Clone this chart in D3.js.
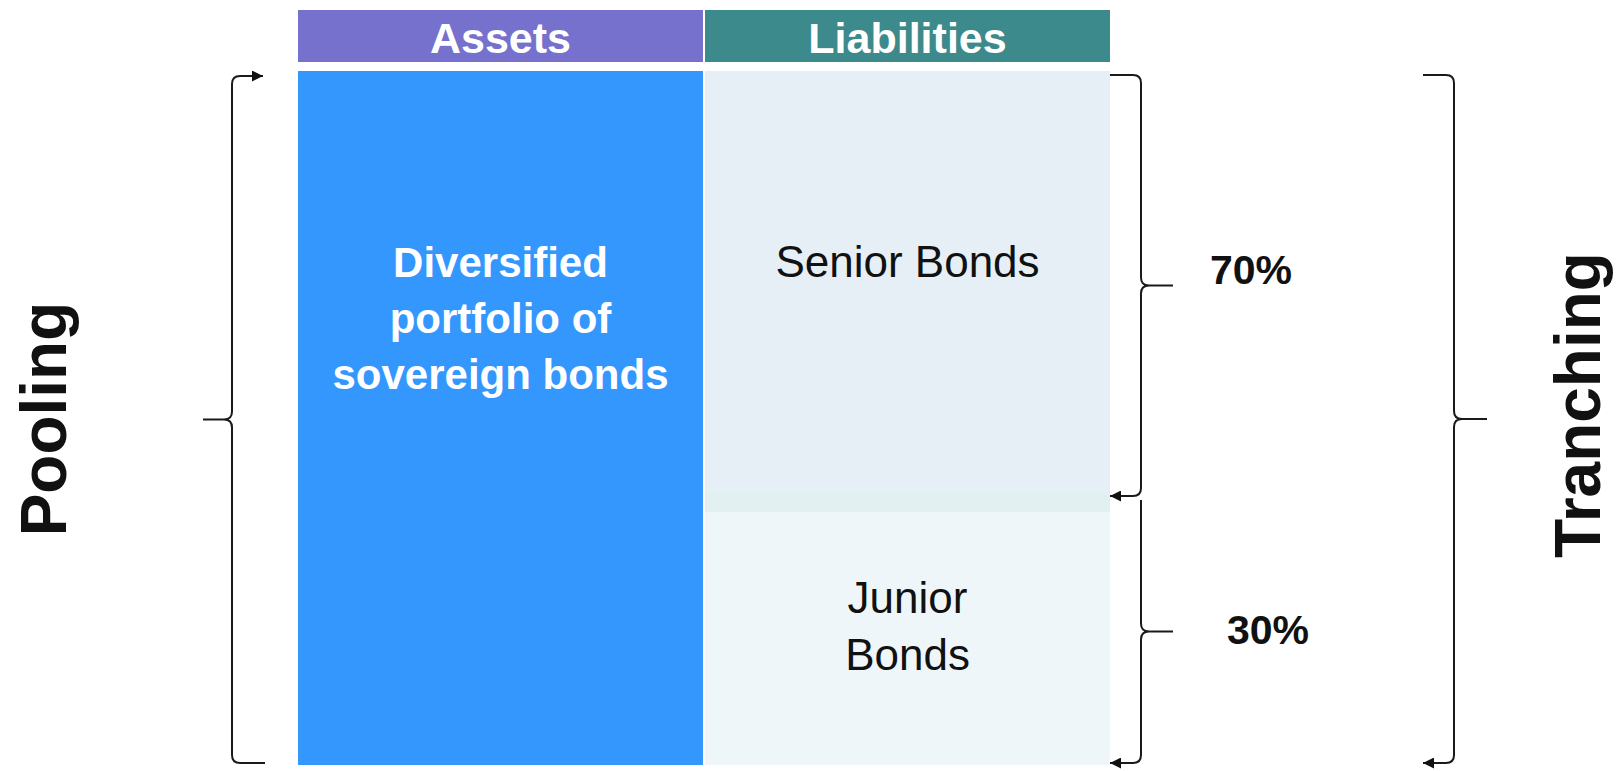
<!DOCTYPE html>
<html>
<head>
<meta charset="utf-8">
<title>Pooling and tranching</title>
<script src="https://cdn.jsdelivr.net/npm/d3@7"></script>
<style>
  body { margin: 0; background: #fff; }
  text { font-family: "Liberation Sans", Arial, sans-serif; }
</style>
</head>
<body>
<div id="chart"></div>
<script>
// data
const columns = ["Assets", "Liabilities"];
const assetLines = ["Diversified", "portfolio of", "sovereign bonds"];
const tranches = ["Senior", "Junior"];
const trancheLines = [["Senior Bonds"], ["Junior", "Bonds"]];
const trancheShares = [70, 30];
const sideLabels = ["Pooling", "Tranching"];

const W = 1622, H = 771;
const svg = d3.select("#chart").append("svg")
    .attr("width", W).attr("height", H);

// arrowhead
svg.append("defs").append("marker")
    .attr("id", "arrow")
    .attr("viewBox", "0 0 10 10")
    .attr("refX", 10).attr("refY", 5)
    .attr("markerUnits", "userSpaceOnUse")
    .attr("markerWidth", 14).attr("markerHeight", 11)
    .attr("orient", "auto-start-reverse")
  .append("path")
    .attr("d", "M0,0 L10,5 L0,10 Z")
    .attr("fill", "#111");

const x = d3.scaleBand().domain(columns).range([298, 1110]).paddingInner(0.005);
// cumulative share -> vertical position (the drawing is not to scale)
const cum = [0, ...d3.cumsum(trancheShares)];
const y = d3.scaleLinear().domain([0, 70, 100]).range([71, 512, 765]);

const headerFill = { Assets: "#7571cd", Liabilities: "#3d8a8c" };

// header bars
const head = svg.selectAll("g.head").data(columns).join("g").attr("class", "head");
head.append("rect")
    .attr("x", d => x(d)).attr("y", 10)
    .attr("width", x.bandwidth()).attr("height", 52)
    .attr("fill", d => headerFill[d]);
head.append("text")
    .attr("x", d => x(d) + x.bandwidth() / 2).attr("y", 53)
    .attr("text-anchor", "middle")
    .attr("font-size", 43).attr("font-weight", "bold")
    .attr("fill", "#fff")
    .text(d => d);

// assets block
svg.append("rect")
    .attr("x", x("Assets")).attr("y", y(0))
    .attr("width", x.bandwidth()).attr("height", y(100) - y(0))
    .attr("fill", "#3497fd");
svg.append("g").selectAll("text").data(assetLines).join("text")
    .attr("x", x("Assets") + x.bandwidth() / 2)
    .attr("y", (d, i) => 277 + i * 56)
    .attr("text-anchor", "middle")
    .attr("font-size", 42).attr("font-weight", "bold")
    .attr("fill", "#fff")
    .text(d => d);

// liabilities tranches
const trFill = ["#e6eff5", "#eff6f9"];
const trTextY = [277, 613];
const tr = svg.selectAll("g.tr").data(tranches).join("g").attr("class", "tr");
tr.append("rect")
    .attr("x", x("Liabilities"))
    .attr("y", (d, i) => y(cum[i]))
    .attr("width", x.bandwidth())
    .attr("height", (d, i) => y(cum[i + 1]) - y(cum[i]))
    .attr("fill", (d, i) => trFill[i]);
// faint greenish seam at the bottom of the senior block
svg.append("rect")
    .attr("x", x("Liabilities")).attr("y", y(cum[1]) - 20)
    .attr("width", x.bandwidth()).attr("height", 20)
    .attr("fill", "#e3f0f1");
tr.each(function(d, i) {
  d3.select(this).selectAll("text").data(trancheLines[i]).join("text")
      .attr("x", x("Liabilities") + x.bandwidth() / 2)
      .attr("y", (t, j) => trTextY[i] + j * 57)
      .attr("text-anchor", "middle")
      .attr("font-size", 44)
      .attr("fill", "#111")
      .text(t => t);
});

// curly brace: vertical at bx from y0 to y1, cusp toward tip, ends curl toward e0 / e1
function brace(bx, y0, y1, tip, e0, e1) {
  const ym = (y0 + y1) / 2, r = 8;
  const s = Math.sign(tip - bx);
  const p = d3.path();
  if (e0 !== bx) {
    p.moveTo(e0, y0);
    p.lineTo(bx - s * r, y0);
    p.quadraticCurveTo(bx, y0, bx, y0 + r);
  } else {
    p.moveTo(bx, y0);
  }
  p.lineTo(bx, ym - r);
  p.quadraticCurveTo(bx, ym, bx + s * r, ym);
  p.lineTo(tip, ym);
  p.lineTo(bx + s * r, ym);
  p.quadraticCurveTo(bx, ym, bx, ym + r);
  p.lineTo(bx, y1 - r);
  p.quadraticCurveTo(bx, y1, bx - s * r, y1);
  p.lineTo(e1, y1);
  return p.toString();
}

const braces = svg.append("g")
    .attr("fill", "none").attr("stroke", "#1a1a1a").attr("stroke-width", 2);

// pooling brace (left)
braces.append("path")
    .attr("d", brace(232, y(0) + 5, y(100) - 2, 203, 263, 265))
    .attr("marker-start", "url(#arrow)");

// tranche braces
const pctDx = [0, 17];
trancheShares.forEach((v, i) => {
  const y0 = i === 0 ? y(cum[i]) + 4 : y(cum[i]) - 12;
  const y1 = i === 0 ? y(cum[i + 1]) - 16 : y(cum[i + 1]) - 2;
  braces.append("path")
      .attr("d", brace(1141, y0, y1, 1173, i === 0 ? 1110 : 1141, 1110))
      .attr("marker-end", "url(#arrow)");
  svg.append("text")
      .attr("x", 1251 + pctDx[i])
      .attr("y", (y0 + y1) / 2 + (i === 0 ? -2 : 12))
      .attr("text-anchor", "middle")
      .attr("font-size", 41).attr("font-weight", "bold")
      .attr("fill", "#111")
      .text(v + "%");
});

// tranching brace (right)
braces.append("path")
    .attr("d", brace(1454, y(0) + 4, y(100) - 2, 1487, 1423, 1423))
    .attr("marker-end", "url(#arrow)");

// side labels
svg.selectAll("text.side").data(sideLabels).join("text")
    .attr("class", "side")
    .attr("transform", (d, i) => i === 0 ? "translate(66,419) rotate(-90)" : "translate(1600,405) rotate(-90)")
    .attr("text-anchor", "middle")
    .attr("font-size", 64).attr("font-weight", "bold")
    .attr("fill", "#111")
    .text(d => d);
</script>
</body>
</html>
